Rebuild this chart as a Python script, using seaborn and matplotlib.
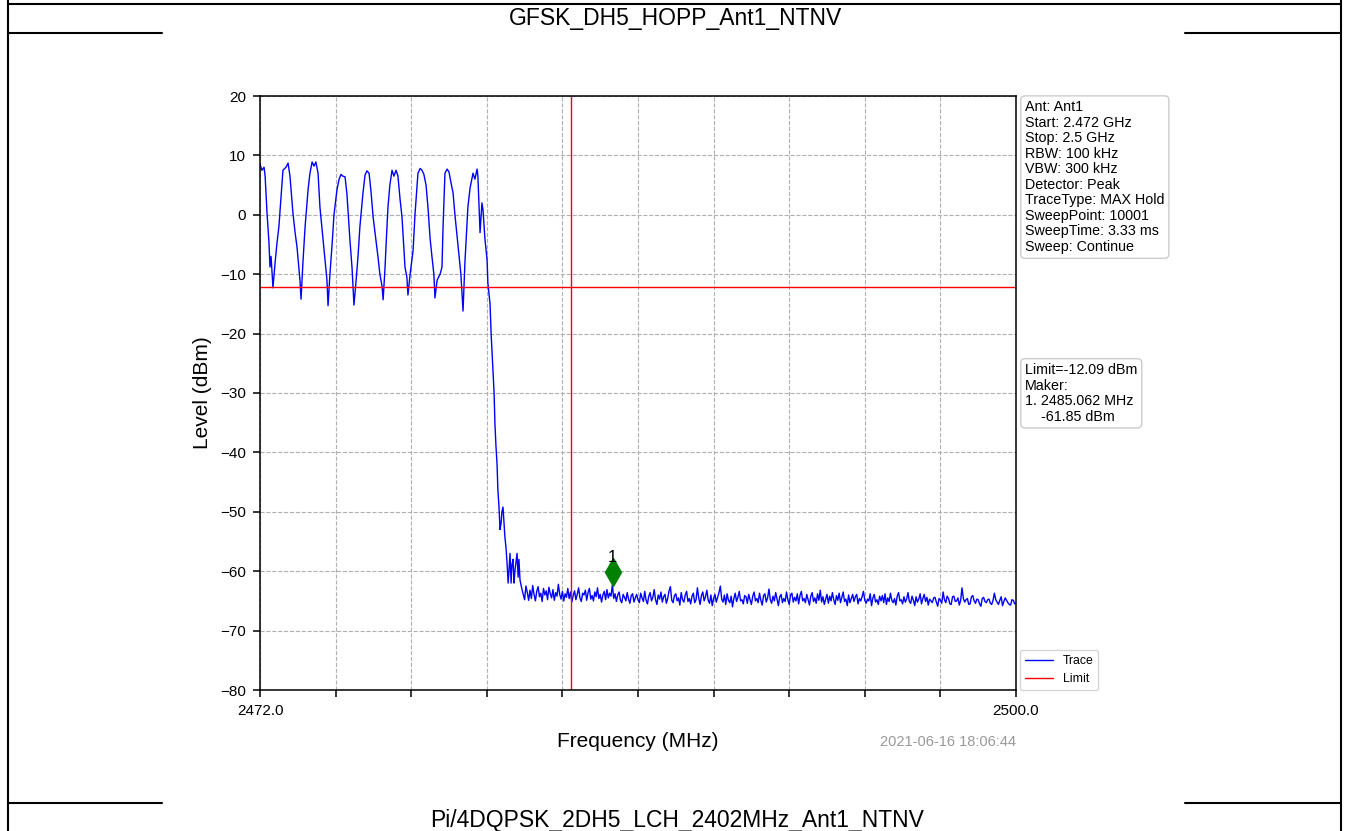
import numpy as np
import pandas as pd
import seaborn as sns
import matplotlib.pyplot as plt
from matplotlib.lines import Line2D

# ---- data ----
doc_title = "GFSK_DH5_HOPP_Ant1_NTNV"
next_title = "Pi/4DQPSK_2DH5_LCH_2402MHz_Ant1_NTNV"

# hopping channels + band-edge roll-off (MHz, dBm)
hop_freq = [2472.00, 2472.07, 2472.15, 2472.19, 2472.26, 2472.33, 2472.37, 2472.41, 2472.48, 2472.56,
            2472.63, 2472.70, 2472.78, 2472.85, 2472.96, 2473.04, 2473.11, 2473.22, 2473.30, 2473.37,
            2473.44, 2473.48, 2473.52, 2473.59, 2473.67, 2473.78, 2473.85, 2473.93, 2474.00, 2474.07,
            2474.15, 2474.22, 2474.30, 2474.37, 2474.44, 2474.48, 2474.52, 2474.59, 2474.67, 2474.74,
            2474.85, 2474.93, 2475.00, 2475.07, 2475.15, 2475.22, 2475.33, 2475.41, 2475.48, 2475.56,
            2475.63, 2475.70, 2475.81, 2475.89, 2475.96, 2476.04, 2476.11, 2476.19, 2476.26, 2476.37,
            2476.44, 2476.52, 2476.56, 2476.63, 2476.67, 2476.74, 2476.81, 2476.89, 2476.96, 2477.04,
            2477.11, 2477.19, 2477.26, 2477.37, 2477.44, 2477.48, 2477.56, 2477.67, 2477.74, 2477.85,
            2477.93, 2478.00, 2478.07, 2478.15, 2478.22, 2478.30, 2478.37, 2478.44, 2478.48, 2478.56,
            2478.67, 2478.74, 2478.78, 2478.85, 2478.93, 2479.00, 2479.07, 2479.15, 2479.22, 2479.30,
            2479.37, 2479.44, 2479.52, 2479.59, 2479.70, 2479.78, 2479.89, 2479.96, 2480.04, 2480.07,
            2480.11, 2480.15, 2480.22, 2480.26, 2480.33, 2480.41, 2480.44, 2480.52, 2480.56, 2480.63,
            2480.67, 2480.70, 2480.74, 2480.78, 2480.81, 2480.85, 2480.89, 2480.93, 2480.96, 2481.00,
            2481.04, 2481.07, 2481.11, 2481.15, 2481.19, 2481.22, 2481.26, 2481.30, 2481.33, 2481.37,
            2481.41, 2481.44, 2481.52, 2481.56, 2481.59, 2481.63, 2481.70]
hop_level = [8.5, 7.5, 8.0, 6.5, 0.3, -4.5, -8.8, -7.0, -12.3, -8.0,
             -4.7, -2.0, 3.0, 7.5, 8.0, 8.7, 6.5, 0.3, -3.0, -5.4,
             -9.0, -11.0, -14.2, -8.0, -2.0, 4.2, 7.0, 8.9, 8.2, 8.9,
             7.0, 1.3, -2.5, -6.0, -9.0, -11.0, -15.3, -10.0, -5.0, 0.0,
             4.2, 6.0, 6.8, 6.5, 6.4, 3.5, -4.2, -9.0, -15.2, -11.0,
             -7.0, -2.0, 3.5, 6.7, 7.4, 7.0, 4.0, -0.4, -3.0, -7.1,
             -10.0, -12.0, -14.3, -9.0, -5.0, 1.3, 5.0, 7.5, 6.5, 7.5,
             6.5, 2.5, -0.4, -8.8, -10.5, -13.5, -10.0, -6.0, 0.0, 7.0,
             7.8, 7.5, 6.8, 5.0, 1.3, -4.0, -7.1, -10.0, -14.0, -11.0,
             -10.0, -8.8, -2.0, 7.0, 7.7, 7.2, 5.5, 3.7, 0.0, -3.7,
             -7.0, -10.0, -16.2, -8.0, 1.3, 4.5, 7.0, 6.0, 7.7, 6.5,
             1.5, -3.0, 2.0, 0.8, -4.0, -7.6, -11.5, -15.0, -20.0, -26.6,
             -30.0, -35.0, -39.0, -42.0, -46.3, -49.0, -53.0, -51.9, -50.0, -49.2,
             -52.0, -54.2, -56.0, -58.6, -62.0, -60.0, -57.0, -62.0, -59.0, -58.0,
             -62.0, -60.0, -57.0, -61.0, -58.0, -61.5, -63.0]

# noise floor, 0.05 MHz steps from 2481.80 to 2500.00 MHz (one row per MHz)
floor_start, floor_step = 2481.8, 0.05
floor_level = [
    -64.8, -62.5, -63.6, -64.9,
    -63.2, -64.6, -62.4, -63.9, -65.0, -63.4, -62.6, -64.3, -63.7, -65.1, -62.9, -64.0, -63.3, -64.8, -62.7, -63.8, -64.5, -63.1, -64.9, -63.6,
    -64.2, -62.2, -63.9, -64.7, -63.4, -65.0, -63.8, -64.4, -62.9, -64.6, -63.5, -65.2, -64.1, -63.3, -64.8, -63.9, -62.8, -64.5, -65.1, -63.7,
    -64.0, -63.2, -64.9, -63.6, -62.9, -64.7, -64.1, -65.0, -63.5, -64.3, -62.8, -64.6, -63.9, -65.2, -64.0, -63.4, -64.8, -63.1, -64.5, -63.7,
    -64.2, -62.3, -64.6, -63.8, -65.1, -64.0, -63.5, -64.9, -65.3, -63.9, -64.4, -65.0, -63.6, -64.7, -65.4, -64.1, -63.8, -65.2, -64.5, -63.9,
    -64.8, -65.3, -63.7, -64.5, -65.1, -63.4, -64.9, -65.5, -64.2, -63.6, -65.0, -64.4, -63.1, -64.8, -65.6, -64.0, -64.7, -63.5, -65.2, -64.3,
    -63.9, -65.4, -64.6, -63.3, -62.6, -64.9, -65.3, -64.1, -63.8, -65.0, -64.5, -65.7, -63.6, -64.8, -65.2, -64.0, -63.4, -65.1, -64.6, -65.5,
    -64.2, -63.7, -65.3, -64.8, -62.8, -64.5, -65.6, -64.1, -63.5, -65.0, -64.3, -63.2, -64.9, -65.4, -64.0, -65.8, -64.6, -63.9, -65.2, -64.4,
    -63.6, -62.5, -64.7, -65.2, -64.0, -65.6, -63.8, -64.9, -65.3, -64.2, -66.0, -64.6, -63.7, -65.1, -64.4, -63.4, -65.0, -64.8, -65.5, -64.1,
    -64.3, -65.4, -63.9, -64.8, -65.6, -64.2, -63.5, -65.0, -64.6, -65.3, -63.7, -64.9, -65.7, -64.1, -63.8, -65.2, -64.5, -63.0, -64.8, -65.4,
    -64.2, -65.0, -63.6, -64.7, -65.8, -64.3, -63.9, -65.3, -64.6, -65.1, -63.5, -64.8, -65.6, -64.0, -63.7, -65.2, -64.4, -65.0, -63.8, -65.5,
    -64.1, -63.4, -65.0, -64.6, -65.3, -63.9, -64.8, -65.7, -64.2, -63.6, -65.1, -64.5, -65.4, -63.8, -64.9, -63.2, -65.2, -64.3, -65.6, -64.7,
    -63.9, -65.4, -64.2, -65.0, -63.6, -64.8, -65.6, -64.1, -64.9, -63.7, -65.3, -64.4, -63.5, -65.1, -64.7, -65.8, -64.0, -65.3, -64.6, -63.9,
    -65.1, -64.3, -63.9, -65.5, -64.6, -65.0, -64.3, -63.4, -64.9, -65.4, -64.7, -65.0, -63.8, -65.8, -64.5, -63.9, -65.2, -64.8, -65.6, -64.2,
    -65.0, -64.1, -65.3, -63.8, -65.6, -64.5, -65.1, -63.7, -64.9, -65.3, -64.6, -65.7, -64.2, -63.6, -65.0, -64.8, -65.5, -64.3, -65.2, -64.7,
    -63.6, -65.1, -65.4, -64.2, -64.9, -65.8, -64.3, -65.2, -64.7, -63.8, -65.5, -64.6, -63.9, -65.1, -64.4, -65.7, -64.7, -65.0, -65.3, -64.5,
    -64.4, -65.2, -65.9, -64.6, -64.9, -65.4, -63.5, -64.8, -65.3, -64.2, -64.6, -65.5, -65.6, -64.3, -64.2, -65.1, -65.0, -64.5, -65.7, -64.9,
    -62.8, -64.6, -65.2, -64.8, -64.6, -65.6, -65.5, -64.3, -64.1, -65.0, -65.4, -64.7, -64.8, -65.5, -65.9, -64.6, -64.4, -65.1, -65.3, -64.8,
    -64.7, -65.4, -65.6, -64.9, -63.7, -64.8, -65.2, -65.6, -64.9, -64.3, -65.8, -65.1, -64.5, -64.9, -65.3, -65.6, -65.7, -64.8, -64.9, -65.5,
    -65.4,
]
floor_freq = list(np.round(floor_start + floor_step * np.arange(len(floor_level)), 2))

limit_dbm = -12.09
band_edge_mhz = 2483.5
marker_freq = 2485.062
marker_level_drawn = -60.2   # where the diamond sits in the picture
marker_label = "1"

freq_start, freq_stop = 2472.0, 2500.0
x_ticks = [2472.0, 2474.8, 2477.6, 2480.4, 2483.2, 2486.0, 2488.8, 2491.6, 2494.4, 2497.2, 2500.0]
x_ticklabels = ["2472.0", "", "", "", "", "", "", "", "", "", "2500.0"]
y_ticks = [20, 10, 0, -10, -20, -30, -40, -50, -60, -70, -80]

info_lines = ["Ant: Ant1", "Start: 2.472 GHz", "Stop: 2.5 GHz", "RBW: 100 kHz", "VBW: 300 kHz",
              "Detector: Peak", "TraceType: MAX Hold", "SweepPoint: 10001",
              "SweepTime: 3.33 ms", "Sweep: Continue"]
marker_lines = ["Limit=-12.09 dBm", "Maker:", "1. 2485.062 MHz", "    -61.85 dBm"]
timestamp = "2021-06-16 18:06:44"

trace = pd.DataFrame({"freq": hop_freq + floor_freq, "level": hop_level + floor_level})

# ---- plot ----
sns.set_style("white")
plt.rcParams["font.family"] = ["Liberation Sans", "DejaVu Sans"]
for key in ("text.color", "axes.labelcolor", "xtick.color", "ytick.color"):
    plt.rcParams[key] = "black"

fig = plt.figure(figsize=(13.48, 8.31), dpi=100)
ax = fig.add_axes([260 / 1348, 141 / 831, 756 / 1348, 594 / 831])

sns.lineplot(data=trace, x="freq", y="level", ax=ax, color="#0000ff", lw=1.0,
             sort=False, estimator=None, label="Trace")
ax.axhline(limit_dbm, color="#ff0000", lw=1.0, label="Limit")
ax.axvline(band_edge_mhz, color="#ff0000", lw=1.0)

ax.plot([marker_freq], [marker_level_drawn], marker="d", ms=14, color="#008000", ls="none")
ax.annotate(marker_label, (marker_freq, marker_level_drawn), xytext=(0, 5),
            textcoords="offset points", ha="center", va="bottom", fontsize=12)

ax.set_xlim(freq_start, freq_stop)
ax.set_ylim(-80, 20)
ax.set_xticks(x_ticks)
ax.set_xticklabels(x_ticklabels)
ax.set_yticks(y_ticks)
ax.grid(True, color="#b0b0b0", ls="--", lw=0.8)
ax.tick_params(axis="both", direction="out", length=5, width=1.1, labelsize=11,
               left=True, bottom=True, pad=5)
for s in ax.spines.values():
    s.set_color("black")
    s.set_linewidth(1.1)

ax.set_xlabel("Frequency (MHz)", fontsize=15, labelpad=10)
ax.set_ylabel("Level (dBm)", fontsize=15, labelpad=6)

box = dict(boxstyle="round,pad=0.3", fc="white", ec="#cccccc", lw=1.0)
ax.text(1.012, 0.993, "\n".join(info_lines), transform=ax.transAxes, va="top", ha="left",
        fontsize=10.3, linespacing=1.14, bbox=box)
ax.text(1.012, 0.5505, "\n".join(marker_lines), transform=ax.transAxes, va="top", ha="left",
        fontsize=10.3, linespacing=1.14, bbox=box)
ax.text(1.0, -0.0875, timestamp, transform=ax.transAxes, ha="right", va="center",
        fontsize=10.5, color="#999999")

ax.legend(loc="lower left", bbox_to_anchor=(1.005, 0.0), borderaxespad=0,
          fontsize=8.8, handlelength=2.3, frameon=True)

# ---- document table around the chart ----
W, H = 1348, 831


def hline(y, x0, x1, lw=1.5):
    fig.add_artist(Line2D([x0 / W, x1 / W], [1 - y / H, 1 - y / H], color="black", lw=lw))


def vline(x, y0, y1, lw=1.5):
    fig.add_artist(Line2D([x / W, x / W], [1 - y0 / H, 1 - y1 / H], color="black", lw=lw))


vline(8, 0, 831)
vline(1341, 0, 831)
hline(4, 8, 1341)
for y in (33, 803):
    hline(y, 8, 162)
    hline(y, 1185, 1341)

fig.text(676 / W, 1 - 18 / H, doc_title, ha="center", va="center", fontsize=16.5)
fig.text(677 / W, 1 - 821 / H, next_title, ha="center", va="center", fontsize=16.5)

fig.savefig("out.png", dpi=100, facecolor="white")
